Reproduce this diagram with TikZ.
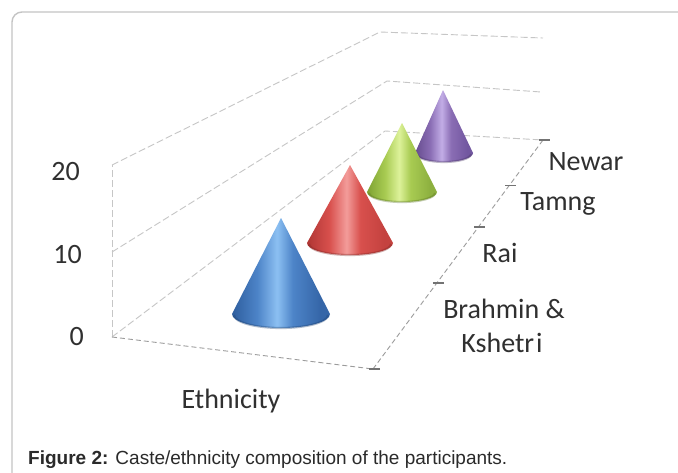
\documentclass[tikz,border=0pt]{standalone}
\usepackage{fontspec}
\usetikzlibrary{calc}
\setmainfont{Carlito}
\newfontfamily\capfont{Liberation Sans}
\definecolor{gridc}{HTML}{C6C6C6}
\definecolor{axisc}{HTML}{9C9C9C}
\definecolor{framec}{HTML}{C4C4C4}
\definecolor{labc}{HTML}{303030}
\definecolor{capc}{HTML}{2A2A2A}
% cone colours
\definecolor{bD}{HTML}{2E5E9E}\definecolor{bM}{HTML}{4D84C8}\definecolor{bL}{HTML}{8CC0F2}\definecolor{bR}{HTML}{3566A8}
\definecolor{rD}{HTML}{B03634}\definecolor{rM}{HTML}{D8504D}\definecolor{rL}{HTML}{F39C9A}\definecolor{rR}{HTML}{C4423F}
\definecolor{gD}{HTML}{7EA232}\definecolor{gM}{HTML}{A8CB52}\definecolor{gL}{HTML}{DDF29A}\definecolor{gR}{HTML}{8DB03F}
\definecolor{pD}{HTML}{664C8E}\definecolor{pM}{HTML}{8A6DB4}\definecolor{pL}{HTML}{C2ADE6}\definecolor{pR}{HTML}{7257A0}
\pgfdeclarehorizontalshading{coneblue}{100bp}{color(0bp)=(bD); color(25bp)=(bD); color(38bp)=(bM); color(48bp)=(bL); color(56bp)=(bM); color(70bp)=(bR); color(75bp)=(bR); color(100bp)=(bR)}
\pgfdeclarehorizontalshading{conered}{100bp}{color(0bp)=(rD); color(25bp)=(rD); color(38bp)=(rM); color(48bp)=(rL); color(56bp)=(rM); color(70bp)=(rR); color(75bp)=(rR); color(100bp)=(rR)}
\pgfdeclarehorizontalshading{conegreen}{100bp}{color(0bp)=(gD); color(25bp)=(gD); color(38bp)=(gM); color(48bp)=(gL); color(56bp)=(gM); color(70bp)=(gR); color(75bp)=(gR); color(100bp)=(gR)}
\pgfdeclarehorizontalshading{conepurple}{100bp}{color(0bp)=(pD); color(25bp)=(pD); color(38bp)=(pM); color(48bp)=(pL); color(56bp)=(pM); color(70bp)=(pR); color(75bp)=(pR); color(100bp)=(pR)}
% #1 shading, #2/#3 apex, #4/#5 base centre, #6/#7 radii, #8 rim colour
\newcommand\drawcone[8]{%
  \shade[shading=#1] (#2,#3) -- (#4-#6,#5) arc[start angle=180, end angle=0, x radius=#6, y radius=#7] -- cycle;
  \draw[#8, opacity=0.35, line width=2.2pt] (#4-#6+2,#5+1) arc[start angle=180, end angle=0, x radius=#6-2, y radius=#7-1];}
\tikzset{
  gridline/.style={gridc, line width=0.9pt, dash pattern=on 7pt off 3pt},
  axisline/.style={axisc, line width=0.9pt, dash pattern=on 5pt off 3pt},
  tickline/.style={black!55, line width=1.3pt},
  lab/.style={inner sep=0pt, font=\fontsize{28}{30}\selectfont, text=labc},
}
\begin{document}
\begin{tikzpicture}[x=1pt, y=-1pt]
\useasboundingbox (0,0) rectangle (678,472);
\clip (0,0) rectangle (678,472);
\fill[white] (0,0) rectangle (678,472);
% frame
\draw[framec, line width=1.4pt, rounded corners=10pt] (12,490) -- (12,12) -- (700,12);
% chart corners
\coordinate (FL0) at (112,337);
\coordinate (FL10) at (112,252);
\coordinate (FL20) at (112,165);
\coordinate (BL0) at (385,131);
\coordinate (BL10) at (387,81);
\coordinate (BL20) at (380,32);
\coordinate (BR0) at (543,140);
\coordinate (BR10) at (541,92);
\coordinate (BR20) at (543,38);
\coordinate (FR) at (373,369);
% walls and grid
\draw[gridline] (FL0) -- (FL20);
\draw[gridline] (FL20) -- (BL20) -- (BR20);
\draw[gridline] (FL10) -- (BL10) -- (BR10);
\draw[gridline] (FL0) -- (BL0) -- (BR0);
% floor front and right edges
\draw[axisline] (FL0) -- (FR);
\draw[axisline] (FR) -- (BR0);
% ticks on the category axis
\foreach \p/\n in {0/ta,0.375/tb,0.62/tc,0.80/td,1/te}{
  \coordinate (\n) at ($(FR)!\p!(BR0)$);
  \draw[tickline] ($(\n)+(-4,0)$) -- ($(\n)+(7,0)$);
}
% cones, back to front
\drawcone{conepurple}{443}{90}{444}{153}{29}{9}{pD!70!black}
\drawcone{conegreen}{402}{123}{402}{192}{35}{10}{gD!70!black}
\drawcone{conered}{350}{165}{350}{243}{43}{12}{rD!70!black}
\drawcone{coneblue}{281}{218}{281}{314}{49}{14}{bD!70!black}
% value labels
\node[lab, anchor=base east] (v20) at (80,180) {20};
\node[lab, anchor=base east] (v10) at (82,263) {10};
\node[lab, anchor=base east] (v0) at (84,345) {0};
% category labels
\node[lab, anchor=base] (cNewar) at (586,170) {Newar};
\node[lab, anchor=base] (cTamng) at (558,210) {Tamng};
\node[lab, anchor=base] (cRai) at (500,262) {Rai};
\node[lab, anchor=base] (cBrahmin) at (504,318) {Brahmin \&};
\node[lab, anchor=base] (cKshetri) at (502,352) {Kshetr\hspace{2pt}i};
\node[lab, anchor=base] (axtitle) at (231,408) {Ethnicity};
% caption
\node[inner sep=0pt, anchor=base west, text=capc, font=\capfont\fontsize{19}{21}\selectfont] (caption) at (28,464) {\textbf{Figure 2:} Caste/ethnicity composition of the participants.};
\end{tikzpicture}
\end{document}
